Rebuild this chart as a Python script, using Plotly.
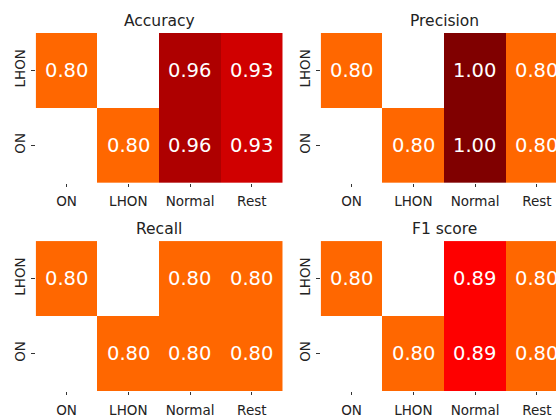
import plotly.graph_objects as go
from plotly.subplots import make_subplots

# Per-class scores: rows are the predicted-against groups, columns are classes.
classes = ["ON", "LHON", "Normal", "Rest"]
groups = ["LHON", "ON"]

accuracy = [[0.80, None, 0.96, 0.93],
            [None, 0.80, 0.96, 0.93]]
precision = [[0.80, None, 1.00, 0.80],
             [None, 0.80, 1.00, 0.80]]
recall = [[0.80, None, 0.80, 0.80],
          [None, 0.80, 0.80, 0.80]]
f1_score = [[0.80, None, 0.89, 0.80],
            [None, 0.80, 0.89, 0.80]]

titles = ["Accuracy", "Precision", "Recall", "F1 score"]
panels = [accuracy, precision, recall, f1_score]

W, H = 556, 418
FONT = "DejaVu Sans"

# matplotlib "hot_r" colormap, stretched over a fixed value window
ZMIN, ZMAX = 0.52, 1.1018
hot_r = [
    [0.0, "rgb(255,255,255)"],
    [0.253968, "rgb(255,255,0)"],
    [0.634921, "rgb(255,0,0)"],
    [1.0, "rgb(11,0,0)"],
]

# panel geometry in pixels: (left, top, bottom), cell width
cell_w = 61.75
geom = [
    (35.7, 33.3, 185.0),
    (320.7, 33.3, 185.0),
    (35.7, 244.0, 395.7),
    (320.7, 244.0, 395.7),
]

fig = make_subplots(rows=2, cols=2)

annotations = []
for i, (z, title, (left, top, bottom)) in enumerate(zip(panels, titles, geom)):
    r, c = i // 2 + 1, i % 2 + 1
    fig.add_trace(
        go.Heatmap(
            z=z,
            x=list(range(len(classes))),
            y=list(range(len(groups))),
            colorscale=hot_r,
            zmin=ZMIN,
            zmax=ZMAX,
            showscale=False,
            texttemplate="%{z:.2f}",
            textfont=dict(family=FONT, size=19.5, color="white"),
            hoverinfo="skip",
        ),
        row=r,
        col=c,
    )
    right = left + cell_w * len(classes)
    x0 = left / W
    x1 = min(right, W) / W
    xmax = -0.5 + (min(right, W) - left) / cell_w
    fig.update_xaxes(
        domain=[x0, x1],
        range=[-0.5, xmax],
        tickvals=list(range(len(classes))),
        ticktext=classes,
        ticks="outside",
        ticklen=3.5,
        tickwidth=1,
        tickcolor="#333",
        showgrid=False,
        zeroline=False,
        showline=False,
        tickfont=dict(family=FONT, size=13.5, color="#222"),
        ticklabelstandoff=3,
        row=r,
        col=c,
    )
    fig.update_yaxes(
        domain=[1 - bottom / H, 1 - top / H],
        range=[1.5, -0.5],
        tickvals=list(range(len(groups))),
        ticktext=groups,
        ticks="outside",
        ticklen=3.5,
        tickwidth=1,
        tickcolor="#333",
        tickangle=-90,
        showgrid=False,
        zeroline=False,
        showline=False,
        tickfont=dict(family=FONT, size=13.5, color="#222"),
        ticklabelstandoff=1,
        row=r,
        col=c,
    )
    annotations.append(
        dict(
            text=title,
            x=(left + right) / 2 / W,
            y=1 - (top - 12.3) / H,
            xref="paper",
            yref="paper",
            xanchor="center",
            yanchor="middle",
            showarrow=False,
            font=dict(family=FONT, size=15.5, color="#222"),
        )
    )

fig.update_layout(
    width=W,
    height=H,
    margin=dict(l=0, r=0, t=0, b=0),
    paper_bgcolor="white",
    plot_bgcolor="white",
    annotations=annotations,
    showlegend=False,
)

fig.write_html("out.html")
